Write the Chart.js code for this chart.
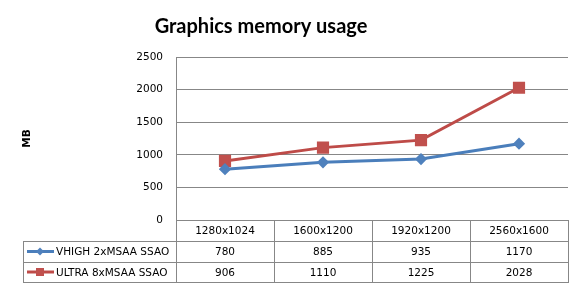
<!DOCTYPE html>
<html>
<head>
<meta charset="utf-8">
<script src="https://cdn.jsdelivr.net/npm/chart.js@4.4.1/dist/chart.umd.min.js"></script>
<style>
  html, body { margin: 0; padding: 0; background: #fff; }
  canvas { display: block; }
</style>
</head>
<body>
<canvas id="grafico" width="584" height="290"></canvas>
<script>
// dados
const titulo = 'Graphics memory usage';
const categorias = ['1280x1024', '1600x1200', '1920x1200', '2560x1600'];
const nomesSeries = ['VHIGH 2xMSAA SSAO', 'ULTRA 8xMSAA SSAO'];
const vhigh = [780, 885, 935, 1170];
const ultra = [906, 1110, 1225, 2028];
const ticksY = [0, 500, 1000, 1500, 2000, 2500];

const cores = {
    azulLinha: '#4a7ebb',
    azulPonto: '#4f81bd',
    vermelhoLinha: '#be4b48',
    vermelhoPonto: '#c0504d',
    grade: '#878787'
};
const fonteTexto = '"DejaVu Sans", sans-serif';

// titulo (o Excel centra sobre a area toda do grafico, nao da tela)
const tituloPlugin = {
    id: 'titulo',
    afterDraw(chart) {
        const ctx = chart.ctx;
        ctx.save();
        ctx.fillStyle = '#000';
        ctx.font = 'bold 20px Lato, sans-serif';
        ctx.textAlign = 'center';
        ctx.textBaseline = 'middle';
        ctx.fillText(titulo, 261, 27);
        ctx.restore();
    }
};

// tabela de dados embaixo do grafico
const tabelaPlugin = {
    id: 'tabela',
    afterDraw(chart) {
        const ctx = chart.ctx;
        const x = chart.scales.x;
        const area = chart.chartArea;
        const passo = x.width / categorias.length;
        const esq = 23;
        const linhas = [Math.round(area.bottom), 241, 262, 282];
        const bordas = categorias.map((c, i) => Math.round(x.getPixelForValue(i) - passo / 2));
        bordas.push(Math.round(area.right));

        ctx.save();
        ctx.strokeStyle = cores.grade;
        ctx.lineWidth = 1;
        ctx.beginPath();
        // horizontais
        for (let r = 1; r < linhas.length; r++) {
            ctx.moveTo(esq, linhas[r] + 0.5);
            ctx.lineTo(bordas[bordas.length - 1] + 1, linhas[r] + 0.5);
        }
        // verticais
        bordas.forEach(b => {
            ctx.moveTo(b + 0.5, linhas[0]);
            ctx.lineTo(b + 0.5, linhas[3] + 1);
        });
        ctx.moveTo(esq + 0.5, linhas[1]);
        ctx.lineTo(esq + 0.5, linhas[3] + 1);
        ctx.stroke();

        ctx.fillStyle = '#000';
        ctx.font = '10.5px ' + fonteTexto;
        ctx.textAlign = 'center';
        ctx.textBaseline = 'middle';
        categorias.forEach((c, i) => {
            ctx.fillText(c, x.getPixelForValue(i), (linhas[0] + linhas[1]) / 2 + 1);
        });

        chart.data.datasets.forEach((ds, s) => {
            const yMeio = (linhas[s + 1] + linhas[s + 2]) / 2 + 1;
            ds.data.forEach((v, i) => {
                ctx.textAlign = 'center';
                ctx.fillText(String(v), x.getPixelForValue(i), yMeio);
            });
            // chave da legenda
            ctx.strokeStyle = ds.borderColor;
            ctx.lineWidth = 3;
            ctx.beginPath();
            ctx.moveTo(27, yMeio - 1);
            ctx.lineTo(54, yMeio - 1);
            ctx.stroke();
            ctx.fillStyle = ds.pointBackgroundColor;
            if (ds.pointStyle === 'rect') {
                ctx.fillRect(36, yMeio - 5, 8, 8);
            } else {
                ctx.beginPath();
                ctx.moveTo(40, yMeio - 5);
                ctx.lineTo(44, yMeio - 1);
                ctx.lineTo(40, yMeio + 3);
                ctx.lineTo(36, yMeio - 1);
                ctx.closePath();
                ctx.fill();
            }
            ctx.fillStyle = '#000';
            ctx.textAlign = 'left';
            ctx.fillText(nomesSeries[s], 56, yMeio);
        });
        ctx.restore();
    }
};

new Chart(document.getElementById('grafico'), {
    type: 'line',
    data: {
        labels: categorias,
        datasets: [{
            label: nomesSeries[0],
            data: vhigh,
            borderColor: cores.azulLinha,
            backgroundColor: cores.azulPonto,
            pointBackgroundColor: cores.azulPonto,
            pointBorderColor: cores.azulPonto,
            pointStyle: 'rectRot',
            pointRadius: 4,
            borderWidth: 3,
            tension: 0
        }, {
            label: nomesSeries[1],
            data: ultra,
            borderColor: cores.vermelhoLinha,
            backgroundColor: cores.vermelhoPonto,
            pointBackgroundColor: cores.vermelhoPonto,
            pointBorderColor: cores.vermelhoPonto,
            pointStyle: 'rect',
            pointRadius: 6.5,
            borderWidth: 3,
            tension: 0
        }]
    },
    options: {
        responsive: false,
        animation: false,
        layout: { padding: { left: 0, right: 16, top: 57, bottom: 70 } },
        plugins: {
            legend: { display: false },
            tooltip: { enabled: false },
            title: { display: false }
        },
        scales: {
            x: {
                display: false,
                offset: true
            },
            y: {
                min: 0,
                max: 2500,
                afterFit(scale) { scale.width = 176; },
                afterBuildTicks(scale) { scale.ticks = ticksY.map(v => ({ value: v })); },
                ticks: {
                    color: '#000',
                    padding: 13,
                    font: { family: fonteTexto, size: 10.5 },
                    callback: v => String(v)
                },
                grid: { color: cores.grade, drawTicks: false },
                border: { color: cores.grade },
                title: {
                    display: true,
                    text: 'MB',
                    color: '#000',
                    font: { family: fonteTexto, size: 10.5, weight: 'bold' },
                    padding: { top: 21, bottom: 0 }
                }
            }
        }
    },
    plugins: [tituloPlugin, tabelaPlugin]
});
</script>
</body>
</html>
